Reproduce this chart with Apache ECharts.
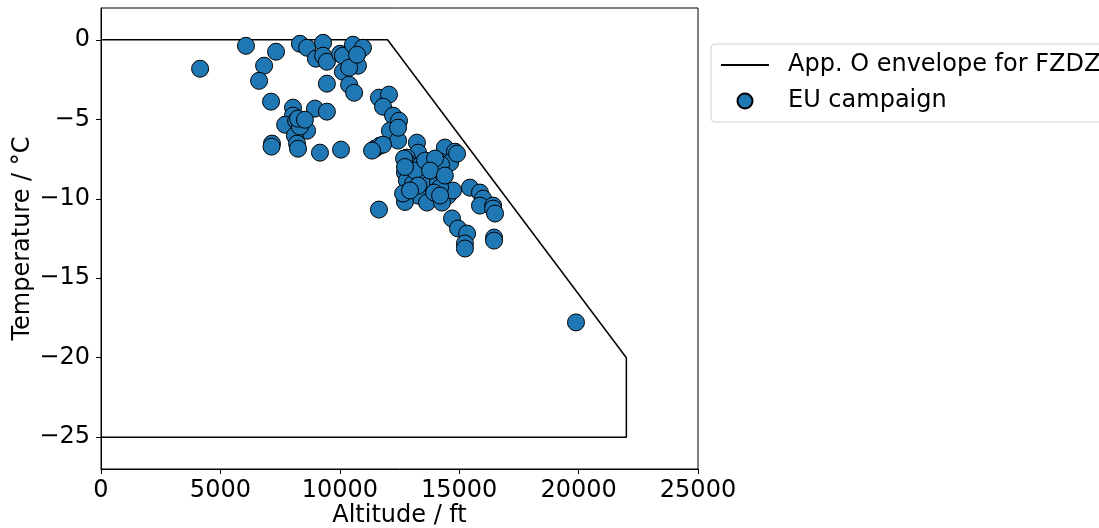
<!DOCTYPE html>
<html>
<head>
<meta charset="utf-8">
<script src="https://cdn.jsdelivr.net/npm/echarts@6/dist/echarts.min.js"></script>
<style>
  html, body { margin: 0; padding: 0; background: #fff; }
  #chart { width: 1099px; height: 528px; }
</style>
</head>
<body>
<div id="chart"></div>
<script>
// Appendix O freezing-drizzle envelope (altitude ft, temperature °C)
const envelopeAlt  = [0, 12000, 22000, 22000, 0];
const envelopeTemp = [0, 0, -20, -25, -25];

// EU flight campaign encounters
const campaignAlt = [
  4150, 6070, 7330, 6830, 6620, 7120, 7160, 7140,
  8330, 8630, 9300, 9000, 9300, 9460, 10010, 10130, 10550, 10970, 10760, 10130,
  10390, 9460, 10390, 10600, 10720,
  8040, 8960, 9460, 8040, 7710, 8460, 8630, 8120, 8210, 8250, 9170, 10050,
  8170, 8330, 8250, 8540,
  11640, 12060, 11810, 12230, 12480, 12100, 12440, 11470, 11680,
  13230, 13280, 12810, 14400, 14820, 14200, 14620, 11810,
  12730, 12810, 13480, 13780, 14320, 14110, 13280, 14530, 11640, 12730,
  13650, 14280, 13070, 12650, 14740, 15450, 15870, 16000, 15870, 16420,
  16420, 16500, 14700, 14950, 15330, 15240, 15240, 16460, 16460, 19890,
  14240, 14240, 14910, 12770, 14200, 11350, 12440,
  13360, 13150, 13570, 13990, 13780, 13280, 12940, 13950, 14200, 14400,
  12690, 12730
];
const campaignTemp = [
  -1.82, -0.38, -0.75, -1.63, -2.58, -3.89, -6.53, -6.72,
  -0.25, -0.50, -0.19, -1.19, -1.00, -1.38, -0.88, -1.00, -0.31, -0.50, -1.63, -2.01,
  -1.76, -2.76, -2.83, -3.33, -0.94,
  -4.27, -4.33, -4.52, -4.77, -5.34, -5.28, -5.72, -6.03, -6.53, -6.85, -7.10, -6.91,
  -5.09, -5.46, -4.96, -5.03,
  -3.64, -3.45, -4.21, -4.77, -5.09, -5.72, -6.34, -6.85, -6.66,
  -6.47, -7.10, -7.41, -6.78, -7.04, -7.66, -7.73, -6.60,
  -8.35, -8.86, -8.67, -9.05, -9.30, -8.98, -9.80, -9.80, -10.68, -10.20,
  -10.24, -10.24, -9.05, -9.67, -9.48, -9.30, -9.61, -9.99, -10.43, -10.43,
  -10.62, -10.93, -11.24, -11.87, -12.19, -12.81, -13.13, -12.44, -12.63, -17.78,
  -8.29, -7.85, -7.16, -7.60, -9.30, -6.97, -5.53,
  -7.91, -8.23, -7.60, -7.47, -8.23, -9.17, -9.48, -9.61, -9.80, -8.54,
  -7.47, -8.00
];

const xTicks = [0, 5000, 10000, 15000, 20000, 25000];
const yTicks = [-25, -20, -15, -10, -5, 0];

const envelopeData = envelopeAlt.map((a, i) => [a, envelopeTemp[i]]);
const campaignData = campaignAlt.map((a, i) => [a, campaignTemp[i]]);

const FONT = 'DejaVu Sans';
const FS = 24;
const minus = v => String(v).replace('-', '\u2212');

const chart = echarts.init(document.getElementById('chart'), null, { renderer: 'canvas' });
chart.setOption({
  animation: false,
  backgroundColor: '#ffffff',
  textStyle: { fontFamily: FONT },
  grid: {
    left: 101, right: 401, top: 8, bottom: 59,
    show: true, borderColor: '#000', borderWidth: 1,
    containLabel: false, outerBoundsMode: 'none'
  },
  xAxis: {
    type: 'value', min: 0, max: 25000,
    name: 'Altitude / ft', nameLocation: 'middle', nameGap: 35, nameMoveOverlap: false,
    nameTextStyle: { fontFamily: FONT, fontSize: FS, color: '#000' },
    splitLine: { show: false },
    axisLine: { show: true, onZero: false, lineStyle: { color: '#000', width: 1 } },
    axisTick: { show: true, length: 5, lineStyle: { color: '#000' }, customValues: xTicks },
    axisLabel: { fontFamily: FONT, fontSize: FS, color: '#000', margin: 10, customValues: xTicks,
                 formatter: v => String(v) }
  },
  yAxis: {
    type: 'value', min: -27, max: 2,
    name: 'Temperature / \u00B0C', nameLocation: 'middle', nameGap: 66, nameRotate: 90,
    nameMoveOverlap: false,
    nameTextStyle: { fontFamily: FONT, fontSize: FS, color: '#000' },
    splitLine: { show: false },
    axisLine: { show: true, onZero: false, lineStyle: { color: '#000', width: 1 } },
    axisTick: { show: true, length: 5, lineStyle: { color: '#000' }, customValues: yTicks },
    axisLabel: { fontFamily: FONT, fontSize: FS, color: '#000', margin: 11, customValues: yTicks,
                 formatter: v => minus(v) }
  },
  legend: {
    orient: 'vertical', left: 711, top: 44,
    padding: [9, 12, 9, 9],
    backgroundColor: '#fff', borderColor: '#d0d0d0', borderWidth: 1, borderRadius: 4,
    itemWidth: 48, itemHeight: 15, itemGap: 12,
    textStyle: { fontFamily: FONT, fontSize: FS, lineHeight: 24, color: '#000', padding: [0, 0, 0, 14] },
    data: [
      { name: 'App. O envelope for FZDZ', itemStyle: { opacity: 0 } },
      { name: 'EU campaign', icon: 'circle' }
    ]
  },
  series: [
    {
      name: 'App. O envelope for FZDZ', type: 'line', data: envelopeData,
      showSymbol: false, symbol: 'none', z: 2,
      lineStyle: { color: '#000', width: 1.5 }, itemStyle: { color: '#000' }
    },
    {
      name: 'EU campaign', type: 'scatter', data: campaignData,
      symbol: 'circle', symbolSize: 17, z: 3,
      itemStyle: { color: '#1f77b4', borderColor: '#000', borderWidth: 1, opacity: 1 }
    }
  ]
});
</script>
</body>
</html>
